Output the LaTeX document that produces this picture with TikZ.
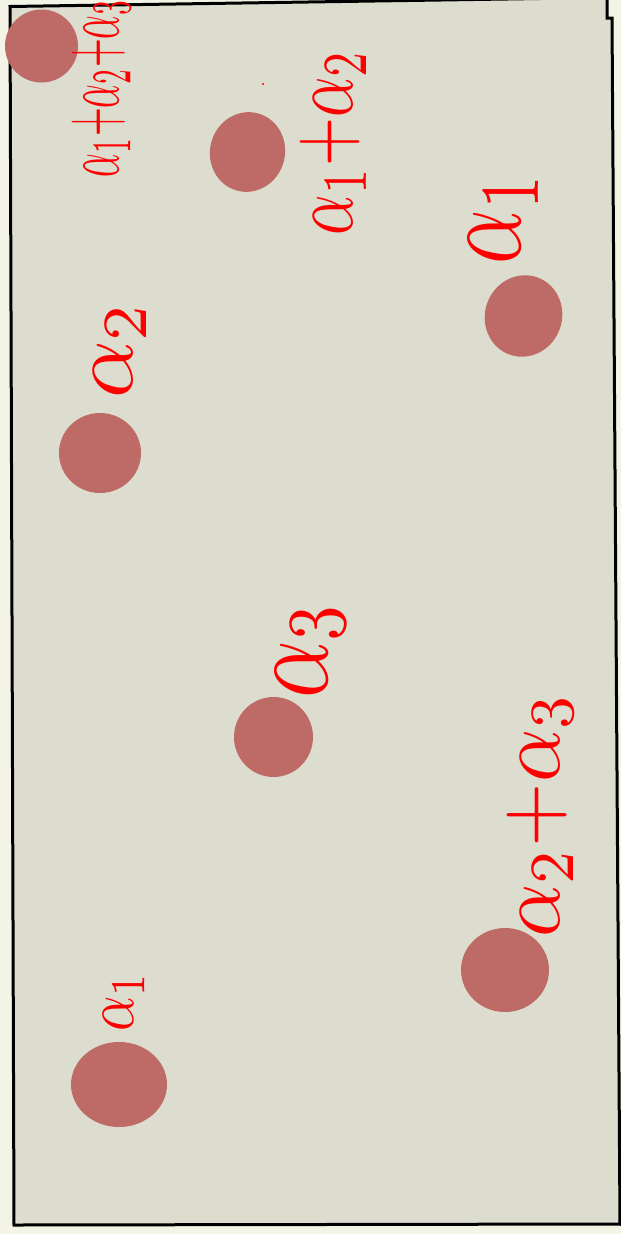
\documentclass[tikz,border=0pt]{standalone}
\usetikzlibrary{shapes.geometric}
\definecolor{outerbg}{HTML}{F3F4E6}
\definecolor{panel}{HTML}{DCDDCE}
\definecolor{blob}{HTML}{BE6A66}
\definecolor{ink}{HTML}{FF0000}
\begin{document}
\begin{tikzpicture}[x=1pt,y=-1pt,
  rootdot/.style={ellipse, fill=blob, draw=none, inner sep=0pt},
  lbl/.style={text=ink, rotate=90, inner sep=0pt, anchor=center},
  frame/.style={draw=black, line width=3pt, line join=miter, fill=panel}]
\fill[outerbg] (0,0) rectangle (621,1234);
\useasboundingbox (0,0) rectangle (621,1234);
\clip (0,0) rectangle (621,1234);
% panel
\draw[frame] (10,6.5) -- (607,-2.5) -- (607,18) -- (612,18) -- (620,1224) -- (14,1225) -- cycle;
\draw[draw=black, line width=3pt] (620,1224) -- (630,1224);
% roots
\node[rootdot, minimum width=73pt, minimum height=73pt] (r123) at (41.5,46) {};
\node[rootdot, minimum width=75pt, minimum height=80pt, rotate=-15] (r12) at (247.5,152) {};
\node[rootdot, minimum width=77pt, minimum height=82pt, rotate=-20] (r1a) at (523.5,316) {};
\node[rootdot, minimum width=82pt, minimum height=80pt] (r2) at (100,453) {};
\node[rootdot, minimum width=79pt, minimum height=80pt] (r3) at (273.5,737) {};
\node[rootdot, minimum width=88pt, minimum height=84pt] (r23) at (505,970) {};
\node[rootdot, minimum width=96pt, minimum height=85pt] (r1b) at (119,1084.5) {};
% labels
\node[lbl] (l123) at (101,88) {\scalebox{3.7}[8]{$\alpha_1{+}\alpha_2{+}\alpha_3$}};
\node[lbl] (l12) at (333,142) {\scalebox{6.3}[9]{$\alpha_1{+}\alpha_2$}};
\node[lbl] (l1a) at (504,218) {\scalebox{8.5}[12]{$\alpha_1$}};
\node[lbl] (l2) at (120,350) {\scalebox{9}[9]{$\alpha_2$}};
\node[lbl] (l3) at (311,650) {\scalebox{9}[12]{$\alpha_3$}};
\node[lbl] (l23) at (540,815) {\scalebox{8.3}[9]{$\alpha_2{+}\alpha_3$}};
\node[lbl] (l1b) at (124,1002) {\scalebox{5.5}[7]{$\alpha_1$}};
\fill[ink] (263,84) circle (1.2pt);
\end{tikzpicture}
\end{document}
